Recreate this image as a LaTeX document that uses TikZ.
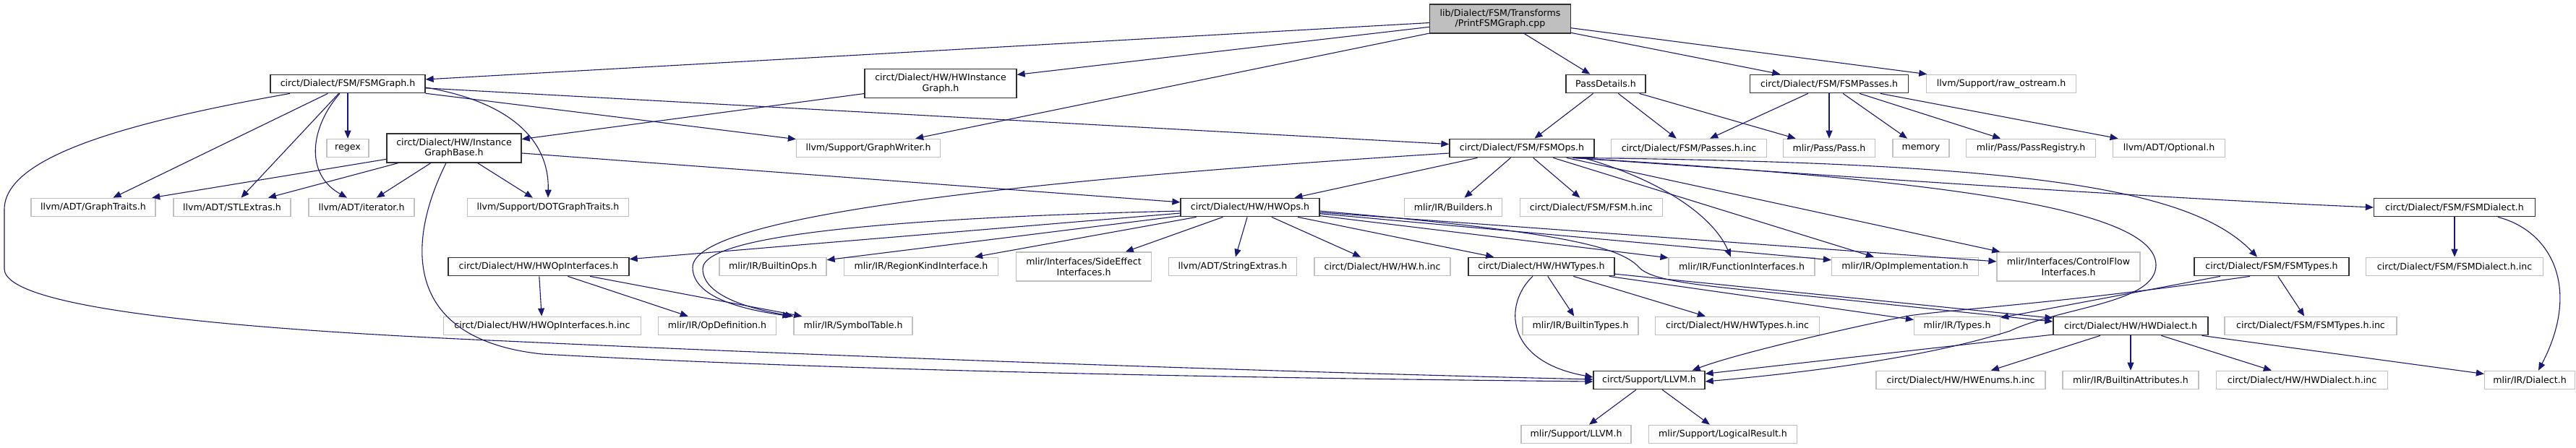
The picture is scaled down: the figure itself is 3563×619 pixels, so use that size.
\documentclass[tikz,border=0pt]{standalone}
\usepackage{fontspec}
\newfontfamily\dvsansfam{DejaVu Sans}
\usetikzlibrary{arrows.meta,calc}
\definecolor{edgeblue}{HTML}{191970}
\definecolor{extgray}{HTML}{C0C0C0}
\definecolor{docgray}{HTML}{303030}
\definecolor{rootfill}{HTML}{BFBFBF}
\tikzset{
  base/.style={rectangle, inner sep=0pt, minimum height=25.5pt, text=black,
    font=\dvsansfam\fontsize{12.6}{14.6}\selectfont, align=center},
  doc/.style={base, draw=docgray, line width=1.3pt},
  ext/.style={base, draw=extgray, line width=1.2pt},
  rootn/.style={base, fill=rootfill, draw=docgray, line width=1.3pt},
  tall/.style={minimum height=40pt},
  e/.style={draw=edgeblue, line width=1.1pt, -{Triangle[length=11pt,width=9pt]}}
}
\begin{document}
\begin{tikzpicture}[x=1pt,y=1pt]
\useasboundingbox (0,0) rectangle (3563,-619);
% row 0
\node[rootn, tall, minimum width=195pt] (root) at (2075,-26) {lib/Dialect/FSM/Transforms\\/PrintFSMGraph.cpp};
% row 1
\node[doc, minimum width=214pt] (fsmgraph) at (481,-116) {circt/Dialect/FSM/FSMGraph.h};
\node[doc, tall, minimum width=210pt] (hwig) at (1301,-115.5) {circt/Dialect/HW/HWInstance\\Graph.h};
\node[doc, minimum width=110pt] (passdet) at (2221,-116) {PassDetails.h};
\node[doc, minimum width=219pt] (fsmpasses) at (2530,-116) {circt/Dialect/FSM/FSMPasses.h};
\node[ext, minimum width=207pt] (rawos) at (2768,-116) {llvm/Support/raw\_ostream.h};
% row 2
\node[ext, minimum width=58pt] (regex) at (481,-205) {regex};
\node[doc, tall, minimum width=186pt] (igb) at (628,-205) {circt/Dialect/HW/Instance\\GraphBase.h};
\node[ext, minimum width=199pt] (graphwriter) at (1201,-205) {llvm/Support/GraphWriter.h};
\node[doc, minimum width=200pt] (fsmops) at (2105,-205) {circt/Dialect/FSM/FSMOps.h};
\node[ext, minimum width=215pt] (passesinc) at (2336,-205) {circt/Dialect/FSM/Passes.h.inc};
\node[ext, minimum width=127pt] (pass) at (2530,-205) {mlir/Pass/Pass.h};
\node[ext, minimum width=78pt] (memory) at (2657,-205) {memory};
\node[ext, minimum width=179pt] (passreg) at (2809,-205) {mlir/Pass/PassRegistry.h};
\node[ext, minimum width=155pt] (optional) at (3000,-205) {llvm/ADT/Optional.h};
% row 3
\node[ext, minimum width=172pt] (graphtraits) at (129,-287) {llvm/ADT/GraphTraits.h};
\node[ext, minimum width=162pt] (stlextras) at (321,-287) {llvm/ADT/STLExtras.h};
\node[ext, minimum width=146pt] (iterator) at (500,-287) {llvm/ADT/iterator.h};
\node[ext, minimum width=223pt] (dotgt) at (758,-287) {llvm/Support/DOTGraphTraits.h};
\node[doc, minimum width=192pt] (hwops) at (1729,-287) {circt/Dialect/HW/HWOps.h};
\node[ext, minimum width=135pt] (builders) at (2010,-287) {mlir/IR/Builders.h};
\node[ext, minimum width=197pt] (fsminc) at (2201,-287) {circt/Dialect/FSM/FSM.h.inc};
\node[doc, minimum width=223pt] (fsmdialect) at (3395,-287) {circt/Dialect/FSM/FSMDialect.h};
% row 4
\node[doc, minimum width=250pt] (hwopif) at (745,-369) {circt/Dialect/HW/HWOpInterfaces.h};
\node[ext, minimum width=148pt] (builtinops) at (1069,-369) {mlir/IR/BuiltinOps.h};
\node[ext, minimum width=213pt] (regionkind) at (1274,-369) {mlir/IR/RegionKindInterface.h};
\node[ext, tall, minimum width=187pt] (sideeffect) at (1499,-369) {mlir/Interfaces/SideEffect\\Interfaces.h};
\node[ext, minimum width=177pt] (strext) at (1705,-369) {llvm/ADT/StringExtras.h};
\node[ext, minimum width=188pt] (hwinc) at (1912,-369) {circt/Dialect/HW/HW.h.inc};
\node[doc, minimum width=202pt] (hwtypes) at (2132,-369) {circt/Dialect/HW/HWTypes.h};
\node[ext, minimum width=202pt] (funcif) at (2409,-369) {mlir/IR/FunctionInterfaces.h};
\node[ext, minimum width=203pt] (opimpl) at (2635,-369) {mlir/IR/OpImplementation.h};
\node[ext, tall, minimum width=198pt] (cfif) at (2861,-369) {mlir/Interfaces/ControlFlow\\Interfaces.h};
\node[doc, minimum width=214pt] (fsmtypes) at (3142,-369) {circt/Dialect/FSM/FSMTypes.h};
\node[ext, minimum width=245pt] (fsmdialinc) at (3395,-369) {circt/Dialect/FSM/FSMDialect.h.inc};
% row 5
\node[ext, minimum width=273pt] (hwopifinc) at (750,-451) {circt/Dialect/HW/HWOpInterfaces.h.inc};
\node[ext, minimum width=163pt] (opdef) at (992,-451) {mlir/IR/OpDefinition.h};
\node[ext, minimum width=164pt] (symtab) at (1180,-451) {mlir/IR/SymbolTable.h};
\node[ext, minimum width=160pt] (builtintypes) at (2186,-451) {mlir/IR/BuiltinTypes.h};
\node[ext, minimum width=227pt] (hwtypesinc) at (2403,-451) {circt/Dialect/HW/HWTypes.h.inc};
\node[ext, minimum width=119pt] (types) at (2707,-451) {mlir/IR/Types.h};
\node[doc, minimum width=214pt] (hwdialect) at (2947,-451) {circt/Dialect/HW/HWDialect.h};
\node[ext, minimum width=238pt] (fsmtypesinc) at (3196,-451) {circt/Dialect/FSM/FSMTypes.h.inc};
% row 6
\node[doc, minimum width=154pt] (llvmh) at (2281,-526) {circt/Support/LLVM.h};
\node[ext, minimum width=234pt] (hwenums) at (2712,-526) {circt/Dialect/HW/HWEnums.h.inc};
\node[ext, minimum width=188pt] (builtinattr) at (2947,-526) {mlir/IR/BuiltinAttributes.h};
\node[ext, minimum width=237pt] (hwdialinc) at (3184,-526) {circt/Dialect/HW/HWDialect.h.inc};
\node[ext, minimum width=125pt] (dialect) at (3499,-526) {mlir/IR/Dialect.h};
% row 7
\node[ext, minimum width=152pt] (mlirllvm) at (2180,-601) {mlir/Support/LLVM.h};
\node[ext, minimum width=205pt] (logical) at (2383,-601) {mlir/Support/LogicalResult.h};

% ---- edges ----
% root
\draw[e] (root) -- (fsmgraph);
\draw[e] (root) -- (hwig);
\draw[e] (root) -- (graphwriter);
\draw[e] (root) -- (passdet);
\draw[e] (root) -- (fsmpasses);
\draw[e] (root) -- (rawos);
% fsmgraph
\draw[e] (fsmgraph) -- (graphtraits);
\draw[e] (fsmgraph) -- (stlextras);
\draw[e] (fsmgraph) -- (regex);
\draw[e] ([xshift=-11pt]fsmgraph.south) .. controls (430,-175) and (420,-240) .. ([xshift=-20pt]iterator.north);
\draw[e] ([yshift=-5pt]fsmgraph.east) .. controls (700,-140) and (760,-190) .. (dotgt.north);
\draw[e] (fsmgraph) -- (graphwriter);
\draw[e] (fsmgraph) -- (fsmops);
\coordinate (loopA) at (6,-290);
\coordinate (loopB) at (6,-372);
\draw[e] ([xshift=-80pt]fsmgraph.south) .. controls (160,-172) and (6,-220) .. (loopA) -- (loopB) .. controls (6,-425) and (300,-455) .. (700,-472) .. controls (1300,-500) and (1900,-518) .. ([yshift=1pt]llvmh.west);
% hwig
\draw[e] (hwig) -- (igb);
% igb
\draw[e] (igb) -- (graphtraits);
\draw[e] (igb) -- (stlextras);
\draw[e] (igb) -- (iterator);
\draw[e] (igb) -- (dotgt);
\draw[e] (igb) -- (hwops);
\draw[e] ([xshift=-11pt]igb.south) .. controls (560,-340) and (560,-470) .. (750,-490) .. controls (1200,-515) and (1800,-524) .. ([yshift=-2pt]llvmh.west);
% passdetails
\draw[e] (passdet) -- (fsmops);
\draw[e] (passdet) -- (passesinc);
\draw[e] (passdet) -- (pass);
% fsmpasses
\draw[e] (fsmpasses) -- (passesinc);
\draw[e] (fsmpasses) -- (pass);
\draw[e] (fsmpasses) -- (memory);
\draw[e] (fsmpasses) -- (passreg);
\draw[e] (fsmpasses) -- (optional);
% fsmops
\draw[e] (fsmops) -- (hwops);
\draw[e] (fsmops) -- (builders);
\draw[e] (fsmops) -- (fsminc);
\draw[e] (fsmops) -- (opimpl);
\draw[e] (fsmops) -- (cfif);
\draw[e] ([yshift=-7pt]fsmops.west) .. controls (1400,-250) and (958,-300) .. (958,-370) .. controls (958,-415) and (1040,-430) .. ([xshift=-4pt]symtab.north west);
\draw[e] ([xshift=85pt]fsmops.south) .. controls (2300,-250) and (2370,-300) .. ([xshift=-15pt]funcif.north);
\draw[e] ([xshift=-30pt]fsmops.south east) .. controls (2600,-248) and (3000,-275) .. (fsmdialect.west);
\draw[e] ([xshift=-30pt]fsmops.south east) .. controls (2800,-225) and (3030,-260) .. ([xshift=-20pt]fsmtypes.north);
\draw[e] ([xshift=-30pt]fsmops.south east) .. controls (2700,-250) and (2982,-290) .. (2982,-367) .. controls (2982,-420) and (2850,-425) .. (2780,-458) .. controls (2650,-500) and (2450,-520) .. ([yshift=-2pt]llvmh.east);
% hwops
\draw[e] (hwops) -- (hwopif);
\draw[e] (hwops) -- (builtinops);
\draw[e] (hwops) -- (regionkind);
\draw[e] (hwops) -- (sideeffect);
\draw[e] (hwops) -- (strext);
\draw[e] (hwops) -- (hwinc);
\draw[e] (hwops) -- (hwtypes);
\draw[e] (hwops) -- (funcif);
\draw[e] (hwops) -- (opimpl);
\draw[e] (hwops) -- (cfif);
\draw[e] ([yshift=-5pt]hwops.west) .. controls (1300,-300) and (972,-320) .. (972,-372) .. controls (972,-410) and (1040,-428) .. (symtab.north west);
\draw[e] ([yshift=-5pt]hwops.east) .. controls (2150,-320) and (2240,-340) .. (2267,-370) .. controls (2290,-395) and (2400,-398) .. (2600,-420) -- ([yshift=6pt]hwdialect.west);
% hwopif
\draw[e] (hwopif) -- (hwopifinc);
\draw[e] (hwopif) -- (opdef);
\draw[e] (hwopif) -- (symtab);
% hwtypes
\draw[e] (hwtypes) -- (builtintypes);
\draw[e] (hwtypes) -- (hwtypesinc);
\draw[e] (hwtypes) -- (types);
\draw[e] (hwtypes) -- (hwdialect);
\draw[e] ([xshift=-12pt]hwtypes.south) .. controls (2080,-420) and (2080,-500) .. ([yshift=4pt]llvmh.west);
% fsmtypes
\draw[e] (fsmtypes) -- (fsmtypesinc);
\draw[e] (fsmtypes) -- (types);
\draw[e] ([xshift=-30pt]fsmtypes.south) .. controls (2850,-420) and (2700,-428) .. (2640,-437) .. controls (2550,-455) and (2400,-490) .. ([xshift=-18pt]llvmh.north east);
% fsmdialect
\draw[e] (fsmdialect) -- (fsmdialinc);
\draw[e] ([xshift=60pt]fsmdialect.south) .. controls (3530,-320) and (3570,-400) .. ([xshift=12pt]dialect.north);
% hwdialect
\draw[e] (hwdialect) -- (llvmh);
\draw[e] (hwdialect) -- (hwenums);
\draw[e] (hwdialect) -- (builtinattr);
\draw[e] (hwdialect) -- (hwdialinc);
\draw[e] (hwdialect) -- (dialect);
% llvm
\draw[e] (llvmh) -- (mlirllvm);
\draw[e] (llvmh) -- (logical);
\end{tikzpicture}
\end{document}
